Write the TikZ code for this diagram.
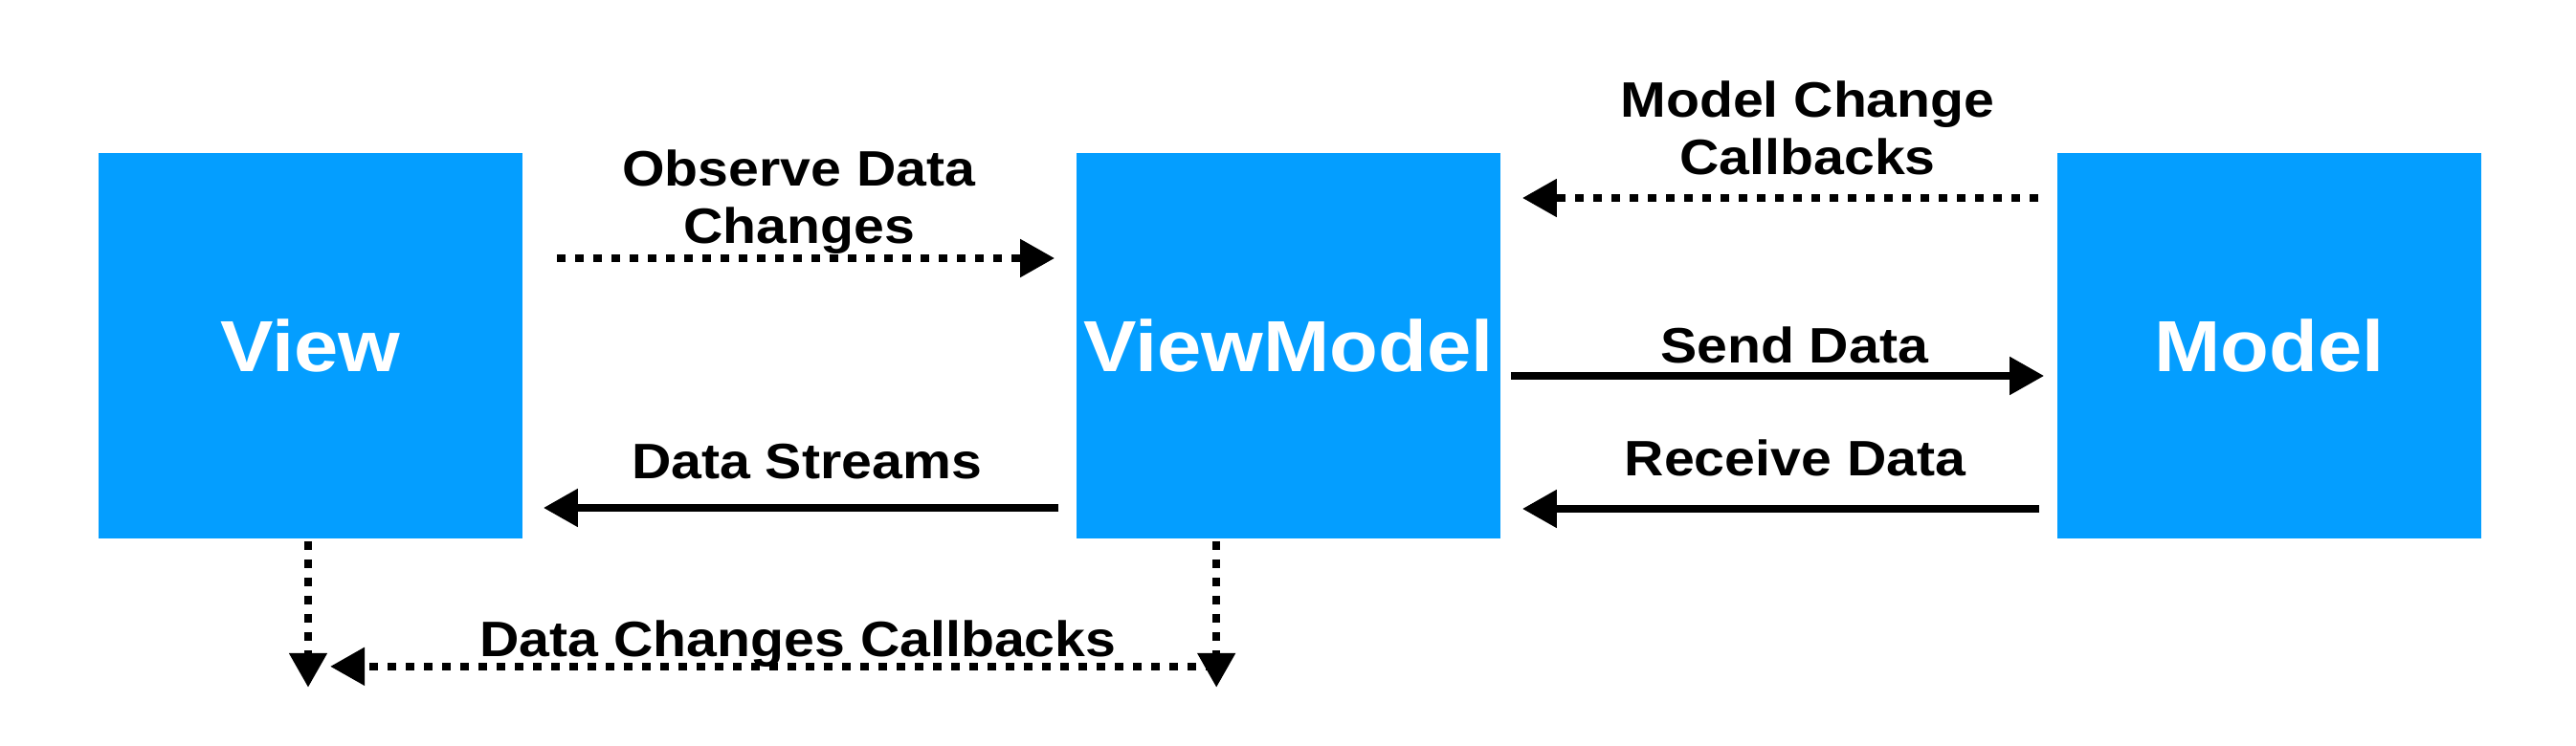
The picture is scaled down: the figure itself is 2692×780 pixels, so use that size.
\documentclass[tikz,border=0pt]{standalone}
\usepackage{fontspec}
\setmainfont{Liberation Sans}[FakeStretch=1.1]
\usetikzlibrary{calc,arrows.meta}
\definecolor{boxblue}{RGB}{4,158,255}
\tikzset{
block/.style={fill=boxblue, text=white, inner sep=0pt, minimum width=4.43cm, minimum height=4.03cm, font=\fontsize{21.5pt}{25pt}\selectfont\bfseries},
tag/.style={inner sep=0pt, align=center, font=\fontsize{14.8pt}{17pt}\selectfont\bfseries},
flow/.style={line width=0.08cm, -{Triangle[length=0.36cm,width=0.38cm]}},
dotflow/.style={flow, dash pattern=on 0.09cm off 0.1cm}
}
\newcommand{\tipcoord}[3]{%
\coordinate (#1) at ($(#2)+(#3)$);
}
\begin{document}
\begin{tikzpicture}[x=0.01cm,y=-0.01cm]
\useasboundingbox (0,0) rectangle (2692,780);

% the three blocks
\node[block] (view) at (324.5,361.5) {View};
\node[block] (vm) at (1346.5,361.5) {ViewModel};
\node[block] (model) at (2371.5,361.5) {Model};

% arrow ends
\tipcoord{obs-a}{view.east}{35,-91.5}
\tipcoord{obs-b}{vm.west}{-22,-91.5}
\tipcoord{str-a}{vm.west}{-18,169.5}
\tipcoord{str-b}{view.east}{21,169.5}
\tipcoord{snd-a}{vm.east}{10,31.5}
\tipcoord{snd-b}{model.west}{-13,31.5}
\tipcoord{rcv-a}{model.west}{-18,170.5}
\tipcoord{rcv-b}{vm.east}{22,170.5}
\tipcoord{mcb-a}{model.west}{-19,-154.5}
\tipcoord{mcb-b}{vm.east}{22,-154.5}
\tipcoord{vdn-a}{view.south}{-2.5,2}
\tipcoord{vdn-b}{view.south}{-2.5,155}
\tipcoord{mdn-a}{vm.south west}{147,2}
\tipcoord{mdn-b}{vm.south west}{147,155}
\tipcoord{dcb-a}{vm.south west}{145,133}
\tipcoord{dcb-b}{view.south}{20.5,133}

\draw[dotflow] (obs-a) -- (obs-b);
\draw[flow] (str-a) -- (str-b);
\draw[flow] (snd-a) -- (snd-b);
\draw[flow] (rcv-a) -- (rcv-b);
\draw[dotflow] (mcb-a) -- (mcb-b);
\draw[dotflow] (vdn-a) -- (vdn-b);
\draw[dotflow] (mdn-a) -- (mdn-b);
\draw[dotflow] (dcb-a) -- (dcb-b);

% labels
\node[tag, anchor=south] (obs-tag) at (835,266) {Observe Data\\Changes};
\node[tag, anchor=base] (str-tag) at (843,501) {Data Streams};
\node[tag, anchor=base] (snd-tag) at (1875,380) {Send Data};
\node[tag, anchor=base] (rcv-tag) at (1876,498) {Receive Data};
\node[tag, anchor=south] (mcb-tag) at (1889,184) {Model Change\\Callbacks};
\node[tag, anchor=base] (dcb-tag) at (834,687) {Data Changes Callbacks};

\end{tikzpicture}
\end{document}
